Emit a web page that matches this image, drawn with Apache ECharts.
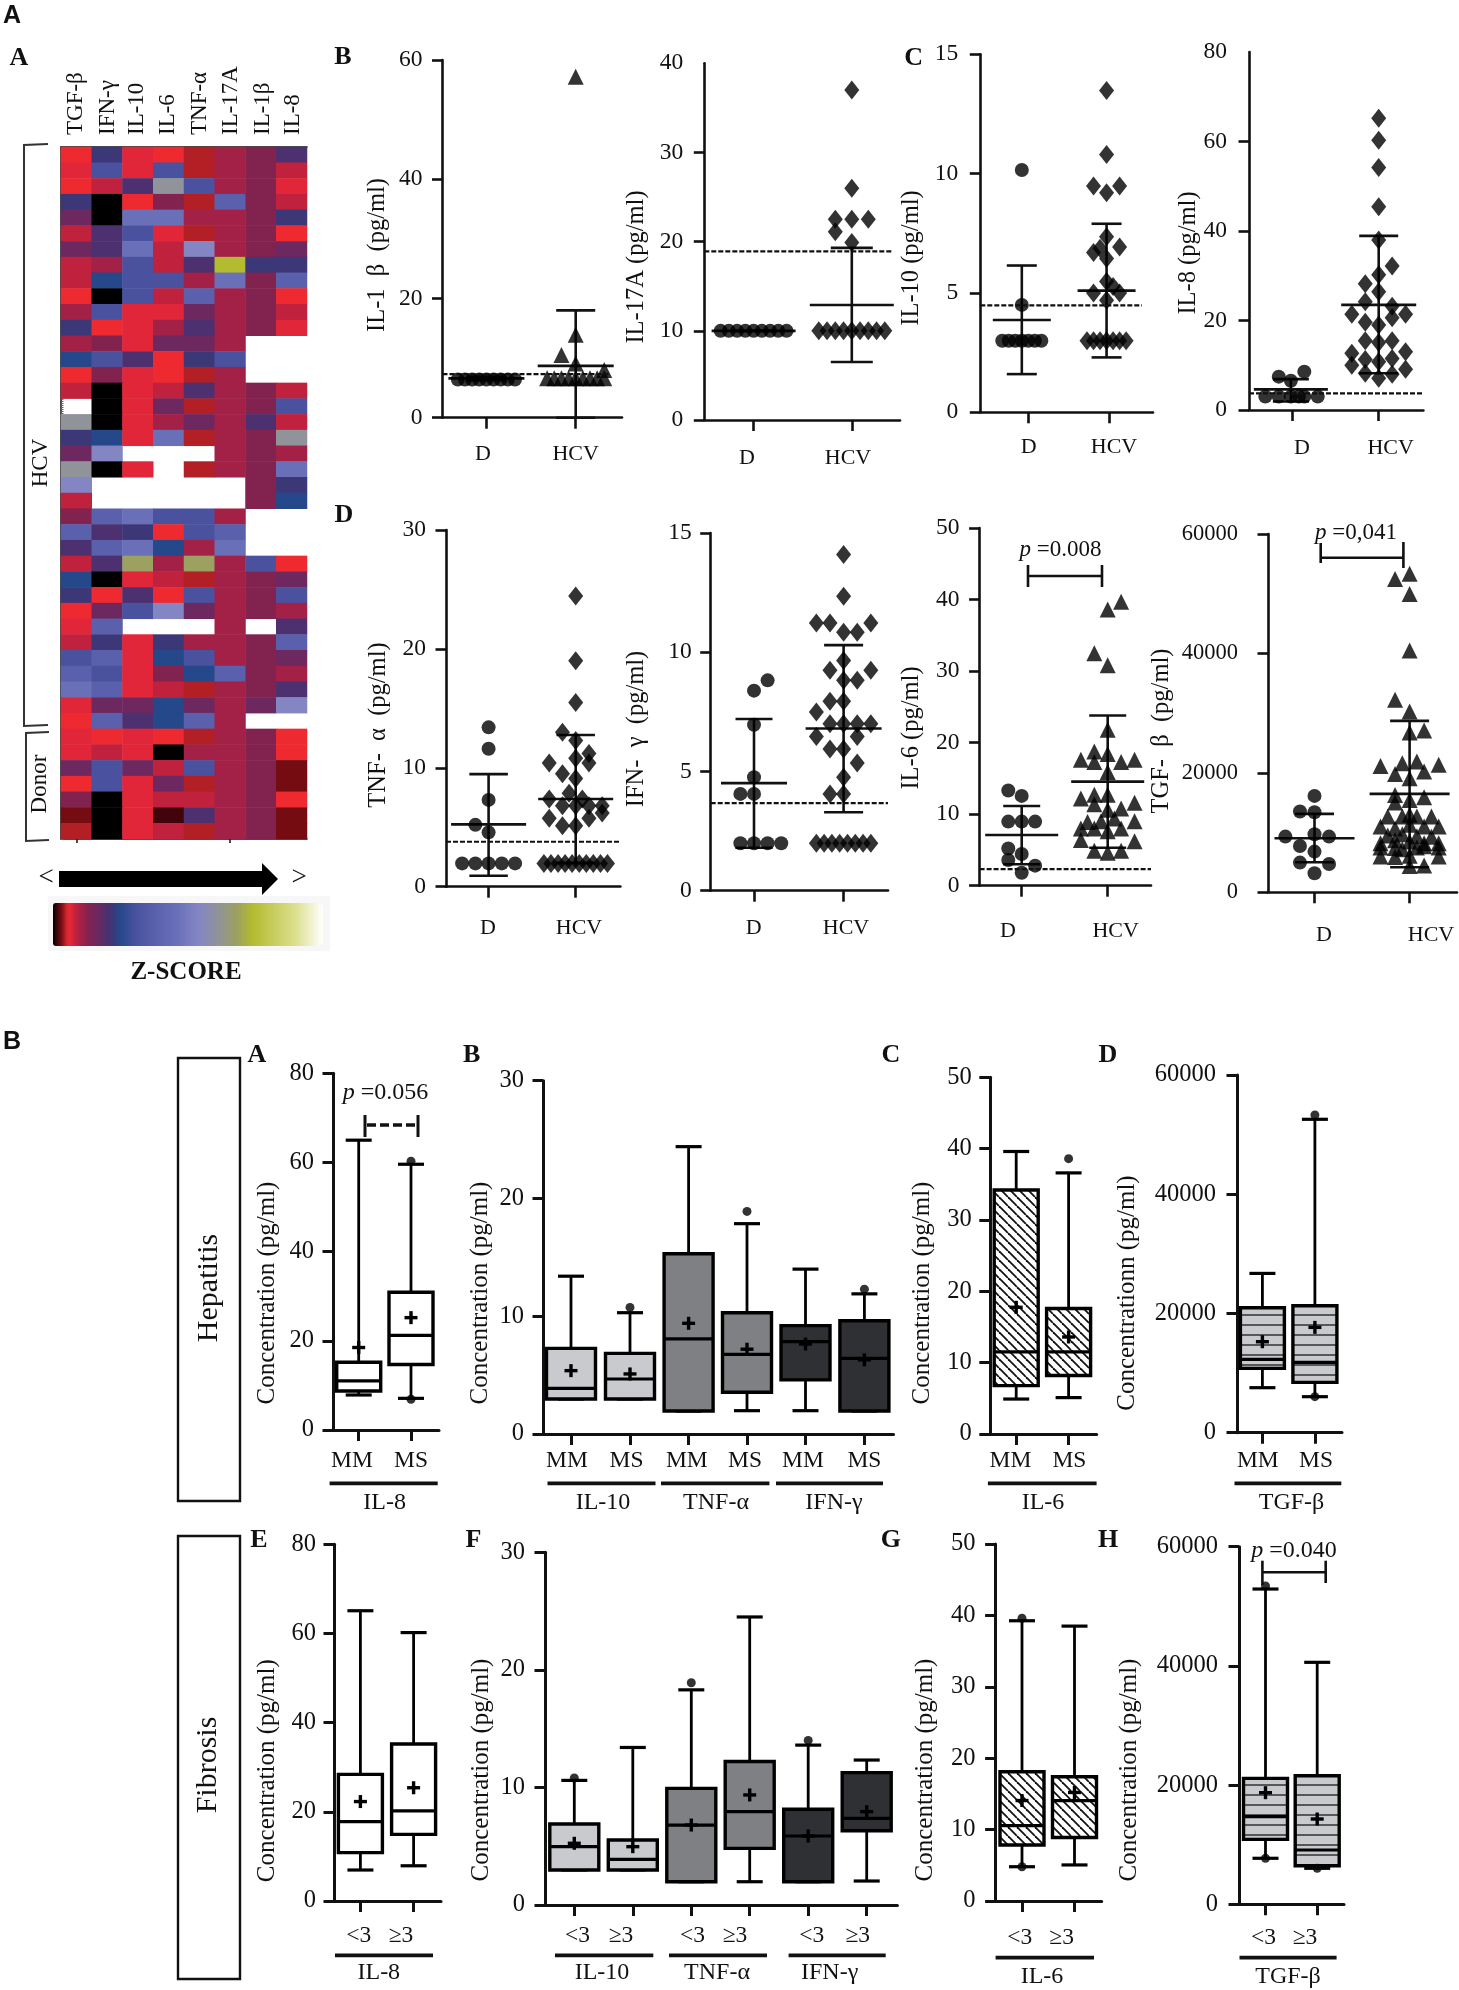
<!DOCTYPE html>
<html>
<head>
<meta charset="utf-8">
<style>
  html, body { margin: 0; padding: 0; background: #fff; }
  #chart { width: 1459px; height: 1990px; }
</style>
<script src="https://cdn.jsdelivr.net/npm/echarts@6/dist/echarts.min.js"></script>
</head>
<body>
<div id="chart"></div>
<script>
// heatmap: z levels
const K = 0, X = 0.015, M = 0.03, D = 0.045, R = 0.055, E = 0.065, C = 0.085, B = 0.105, P = 0.13,
  V = 0.165, U = 0.2, I = 0.22, N = 0.245, A = 0.31, L = 0.38, O = 0.46, W = 0.54, G = 0.61, H = 0.68, Y = 0.74, _ = null;
const zStops = [[0,'#000000'],[0.015,'#40040a'],[0.03,'#740c12'],[0.045,'#b21f25'],[0.055,'#ee2a30'],[0.065,'#e2263a'],
  [0.085,'#c0213c'],[0.105,'#a32047'],[0.13,'#82224f'],[0.165,'#6d2860'],[0.2,'#4d3070'],[0.22,'#3c3878'],
  [0.245,'#24488a'],[0.31,'#4a52a0'],[0.38,'#5a60ac'],[0.46,'#6a70b8'],[0.54,'#8486c4'],[0.61,'#90939a'],
  [0.68,'#9ca060'],[0.74,'#b3bb30'],[0.9,'#dde08f'],[1,'#ffffff']];

const heatColumns = ['TGF-β', 'IFN-γ', 'IL-10', 'IL-6', 'TNF-α', 'IL-17A', 'IL-1β', 'IL-8'];
const heatRows = [
  [R,I,E,R,D,B,P,U],[E,A,E,A,D,B,P,C],[R,C,U,G,A,B,P,E],[I,K,R,P,D,L,P,C],
  [V,K,O,O,B,B,P,I],[C,U,A,E,D,B,P,R],[V,U,O,C,W,B,P,V],[C,B,A,C,U,Y,I,I],
  [C,N,A,A,B,O,P,L],[R,K,A,C,L,B,P,R],[B,A,E,E,V,B,P,C],[I,R,E,B,U,B,P,E],
  [B,P,E,V,V,B,_,_],[N,A,U,R,I,A,_,_],[R,P,E,R,D,B,_,_],[C,K,E,C,U,B,P,C],
  [_,K,E,V,D,B,P,A],[G,K,E,B,V,B,U,C],[I,N,E,O,D,B,P,G],[V,W,_,_,_,B,P,B],
  [G,K,E,_,D,B,P,O],[W,_,_,_,_,_,P,I],[C,_,_,_,_,_,P,N],[P,L,O,A,A,B,_,_],
  [L,U,I,R,A,L,_,_],[U,L,O,N,B,O,_,_],[C,U,H,B,H,B,A,R],[N,K,E,C,D,B,P,V],
  [I,R,U,R,A,B,P,A],[R,V,A,W,V,B,P,B],[E,L,_,_,_,B,_,U],[C,I,E,I,B,B,P,L],
  [A,L,E,N,A,B,P,V],[L,A,E,P,N,L,P,B],[O,L,E,C,D,B,P,U],[E,V,V,N,V,B,V,W],
  [R,L,U,N,L,B,_,_],[E,R,E,R,D,B,P,R],[E,C,E,K,B,B,P,R],[V,A,V,C,A,B,P,M],
  [R,A,E,V,D,B,P,M],[P,K,E,C,C,B,P,R],[M,K,E,X,U,B,P,M],[D,K,E,C,D,B,P,M]
];

// scatter panels: points are [swarm slot, value], stats are [mean, low, high]
const il1bDonor = [[-4,6.4],[-3,6.4],[-2,6.4],[-1,6.4],[0,6.4],[1,6.4],[2,6.4],[3,6.4],[4,6.4]];
const il1bHcv = [[-4,6.6],[-3,6.6],[-2,6.6],[-1,6.6],[0,6.6],[1,6.6],[2,6.6],[3,6.6],[4,6.6],[4,8],[-2,10.5],[0,9.1],[0,13.9],[0,57.2]];
const il1bDonorStats = [6.6, 6.3, 6.9], il1bHcvStats = [8.7, 0, 18], il1bRef = 7.3;

const il17Donor = [[-4,10],[-3,10],[-2,10],[-1,10],[0,10],[1,10],[2,10],[3,10],[4,10]];
const il17Hcv = [[-4,10],[-3,10],[-2,10],[-1,10],[0,10],[1,10],[2,10],[3,10],[4,10],[0,19.9],[-2,21.1],[-2,22.5],[0,22.5],[2,22.5],[0,26],[0,37]];
const il17DonorStats = [10, 10, 10], il17HcvStats = [12.9, 6.5, 19.3], il17Ref = 18.9;

const il10Donor = [[-3,3],[-2,3],[-1,3],[0,3],[1,3],[2,3],[3,3],[0,4.5],[0,10.15]];
const il10Hcv = [[-3,3],[-2,3],[-1,3],[0,3],[1,3],[2,3],[3,3],[0,4.7],[-2,5],[2,5],[1,5.27],[0,5.48],[0,6.44],[-2,6.7],[-1,6.87],[2,6.93],[0,7.36],[0,9.2],[-2,9.48],[2,9.48],[0,10.8],[0,13.48]];
const il10DonorStats = [3.87, 1.6, 6.15], il10HcvStats = [5.1, 2.3, 7.9], il10Ref = 4.48;

const il8Donor = [[-1.9,3],[-0.9,3],[0,3],[0.6,3],[1,3],[2,3],[0,6.55],[-0.9,7.45],[1,8.57]];
const il8Hcv = [[0,7.1],[-1,8.2],[1,8],[2,9.1],[-2,10],[0,10.8],[-1,11.3],[1,11.5],[-2,12.7],[2,13],[-1,15.5],[0,15.1],[1,15.5],[0,19],[-1,19.6],[1,20.6],[-2,21.4],[2,21.4],[1,23.2],[-1,24.2],[0,26.4],[-1,28.2],[0,30.2],[1,32.2],[0,38],[0,45.4],[0,54.2],[0,60.3],[0,65.2]];
const il8DonorStats = [4.6, 1.9, 6.9], il8HcvStats = [23.5, 8.2, 38.9], il8Ref = 3.72;

const tnfDonor = [[-2,1.96],[-1,1.96],[0,1.96],[1,1.96],[2,1.96],[0,4.57],[-1,5.2],[0,7.3],[0,11.6],[0,13.4]];
const tnfHcv = [[-2.4,1.96],[-1.87,1.96],[-1.33,1.96],[-0.8,1.96],[-0.27,1.96],[0.27,1.96],[0.8,1.96],[1.33,1.96],[1.87,1.96],[2.4,1.96],[-1,5.13],[0,5.13],[-2,5.75],[1,5.75],[2,6.2],[-1,6.8],[0,6.8],[1,6.8],[2,6.8],[-2,7.37],[0.5,7.37],[-0.5,7.85],[0,9.1],[-1,9.5],[-2,10.4],[1,10.4],[0,10.8],[1,11.2],[0,12.3],[-1,13],[0,15.5],[0,19],[0,24.45]];
const tnfDonorStats = [5.24, 0.92, 9.47], tnfHcvStats = [7.37, 2, 12.76], tnfRef = 3.78;

const ifnDonor = [[-1,1.99],[0,1.99],[1,1.99],[2,1.99],[-1,4.06],[0,4.06],[0,4.76],[0,6.96],[0,8.39],[1,8.82]];
const ifnHcv = [[-2,1.99],[-1.43,1.99],[-0.86,1.99],[-0.29,1.99],[0.29,1.99],[0.86,1.99],[1.43,1.99],[2,1.99],[-1,4.06],[0,4.06],[0,4.76],[1,5.35],[-1,5.94],[0,5.94],[-2,6.47],[1,6.47],[-1,7],[0,7],[1,7],[2,7],[-2,7.49],[-1,7.94],[0,7.94],[0,8.82],[1,8.82],[-1,9.24],[2,9.24],[0,9.65],[0,10.84],[1,10.84],[-2,11.23],[-1,11.23],[2,11.23],[0,12.35],[0,14.1]];
const ifnDonorStats = [4.51, 1.8, 7.2], ifnHcvStats = [6.8, 3.29, 10.3], ifnRef = 3.67;

const il6Donor = [[0,1.8],[1,2.8],[-1,3.6],[0,4.43],[-1,5.2],[-1,8.96],[0,8.96],[1,8.96],[0,12.55],[-1,13.3]];
const il6Hcv = [[0,4.6],[-1,4.9],[1,4.9],[2,6.2],[-2,6.4],[0,7.6],[-2,8],[-1,8],[1,8],[-1.5,8.9],[-0.5,9],[2,9],[0.5,9.4],[0,10.6],[1,10.8],[-1,11.4],[2,11.6],[-2,12.2],[-1,12.7],[0,12.7],[0,15.9],[-1,17.3],[1,17.3],[-2,17.6],[2,17.6],[0,18.4],[-1,18.75],[0,21.8],[0,30.8],[-1,32.5],[0,38.6],[1,39.7]];
const il6DonorStats = [7.09, 3, 11.15], il6HcvStats = [14.55, 5.3, 23.8], il6Ref = 2.33;

const tgfDonor = [[0,3185],[1,4750],[-1,4970],[0,6815],[-1,7765],[-2,9330],[1,9330],[0,9720],[0,13400],[-1,13520],[0,16145]];
const tgfHcv = [[0,4400],[1,4500],[-2,5980],[-1,5900],[0,6100],[2,5980],[-2,7500],[-1,7400],[-0.5,7200],[0.5,7500],[1,7700],[2,7500],[-2,8200],[-1,8700],[0,8500],[1,8200],[2,8200],
  [-1.5,9500],[-0.5,9700],[0.5,9400],[1.5,9300],[-2,11000],[-1,10700],[0,11300],[1,11000],[2,11000],[-1.5,12680],[-0.5,12680],[0,13000],[0.5,12680],[1.5,12680],
  [-1,15030],[0,15470],[1,15920],[-1,16310],[0,19100],[-1,19830],[1,20220],[-2,21170],[2,21340],[-0.5,21620],[0.5,21900],[0,26760],[1,27090],[0,30280],[-1,32230],[0,40500],[0,49940],[-1,52450],[0,53350]];
const tgfDonorStats = [9050, 5030, 13130], tgfHcvStats = [16480, 4190, 28700];

// box panels: each box is [low, q1, median, q3, high, mean]
const hepIl8Boxes = [[7.85,8.75,11,15.2,65,18.5],[7.1,14.7,21.2,30.9,59.6,25.2]];
const hepIl8Dots = [[2,60.3],[2,6.9]];
const hepCytBoxes = [[2.97,2.97,3.88,7.27,13.4,5.38],[2.97,2.97,4.67,6.85,10.3,5.1],[1.95,1.95,8.07,15.3,24.4,9.4],[1.98,3.54,6.76,10.3,17.86,7.2],[1.98,4.6,7.84,9.2,14,7.64],[1.95,1.95,6.42,9.62,11.9,6.3]];
const hepCytDots = [[2,10.75],[4,18.9],[6,12.3]];
const hepIl6Boxes = [[4.9,6.78,11.5,34.2,39.6,17.76],[5.1,8.2,11.5,17.6,36.6,13.6]];
const hepIl6Dots = [[2,38.6]];
const hepTgfBoxes = [[7550,10790,12300,20970,26720,15260],[6040,8440,11800,21300,52570,17670]];
const hepTgfDots = [[2,53300],[2,6040]];
const fibIl8Boxes = [[6.95,10.84,17.8,28.4,65.1,22.3],[7.9,14.95,20.2,35.2,60.2,25.4]];
const fibCytBoxes = [[2.98,2.98,4.96,6.89,10.6,5.25],[2.98,2.98,3.88,5.53,13.4,4.96],[1.98,1.98,6.8,9.92,18.3,6.8],[1.98,4.82,7.94,12.2,24.5,9.36],[1.98,1.98,5.87,8.14,13.6,5.87],[2.04,6.32,7.37,11.26,12.33,7.94]];
const fibCytDots = [[1,10.8],[3,18.9],[5,14]];
const fibIl6Boxes = [[4.8,7.85,10.56,18.1,39.25,14.07],[5.05,8.9,14.07,17.4,38.5,15.2]];
const fibIl6Dots = [[1,39.6],[1,4.8]];
const fibTgfBoxes = [[7720,10900,14700,21130,52900,18730],[6040,6480,9110,21580,40600,14310]];
const fibTgfDots = [[1,53400],[1,7720],[2,6040]];
const severityLabels = ['MM', 'MS'];
const fibrosisLabels = ['<3', '≥3'];

const SERIF = '"Liberation Serif", serif';
const INK = '#111111';
const grids = [], xAxes = [], yAxes = [], series = [], marks = [];

function text(x, y, str, size, opt) {
  opt = opt || {};
  const align = opt.align || 'center';
  marks.push({
    type: 'text', silent: true, x: x, y: y, rotation: opt.vertical ? Math.PI / 2 : 0, z: 20,
    style: {
      text: str, fill: opt.color || INK, align: align, verticalAlign: 'middle',
      textAlign: align, textVerticalAlign: 'middle',
      font: (opt.bold ? 'bold ' : '') + size + 'px ' + (opt.family || SERIF),
      rich: opt.rich
    }
  });
}
function seg(x1, y1, x2, y2, w, dash) {
  marks.push({
    type: 'line', silent: true, z: 20, shape: { x1: x1, y1: y1, x2: x2, y2: y2 },
    style: { stroke: INK, lineWidth: w || 2.5, lineDash: dash }
  });
}
function pValue(x, y, value, size) {
  text(x, y, '{i|p} =' + value, size, { rich: { i: { fontStyle: 'italic', fontFamily: SERIF, fontSize: size } } });
}

// one grid with a value x axis: tick 1 sits on ticks[0], tick 2 on ticks[1] and so on
function addAxes(p) {
  const unit = p.ticks[1] - p.ticks[0];
  const toX = (px) => 1 + (px - p.ticks[0]) / unit;
  const labelVals = p.labelPx.map(toX);
  const names = new Map(labelVals.map((v, i) => [v, p.labels[i]]));
  const lw = p.lw || 2.6;
  const fs = p.fs || 22;
  const g = grids.length;
  grids.push({ left: p.left, top: p.top, width: p.right - p.left, height: p.bottom - p.top });
  const xi = xAxes.length, yi = yAxes.length;
  xAxes.push({
    type: 'value', gridIndex: g, min: toX(p.left), max: toX(p.right), splitLine: { show: false },
    axisLine: { onZero: false, lineStyle: { color: INK, width: lw } },
    axisTick: { customValues: p.ticks.map(toX), length: 11, lineStyle: { color: INK, width: lw } },
    axisLabel: {
      customValues: labelVals, formatter: (v) => names.get(v), hideOverlap: false,
      margin: p.labelY - p.bottom - fs / 2, color: INK, fontFamily: SERIF, fontSize: fs
    }
  });
  yAxes.push({
    type: 'value', gridIndex: g, min: 0, max: p.max, interval: p.interval, splitLine: { show: false },
    axisLine: { onZero: false, lineStyle: { color: INK, width: lw } },
    axisTick: { length: 10.5, customValues: p.yTicks, lineStyle: { color: INK, width: lw } },
    axisLabel: {
      margin: p.margin || 20, color: INK, fontFamily: SERIF, fontSize: p.tickFs || 23.5, padding: [9, 0, 0, 0],
      formatter: (v) => String(v)
    }
  });
  text(p.nameX, p.nameY, p.name, p.nameSize || 24.5, { vertical: true });
  return { xi: xi, yi: yi, toX: toX };
}

function statSeries(ax, center, stats, meanW, capW) {
  series.push({
    type: 'custom', xAxisIndex: ax.xi, yAxisIndex: ax.yi, silent: true, clip: false,
    data: [[center, stats[0], stats[1], stats[2]]],
    renderItem: (params, api) => {
      const m = api.coord([api.value(0), api.value(1)]);
      const lo = api.coord([api.value(0), api.value(2)]);
      const hi = api.coord([api.value(0), api.value(3)]);
      const st = { stroke: INK, lineWidth: 2.6 };
      const ln = (x1, y1, x2, y2) => ({ type: 'line', shape: { x1: x1, y1: y1, x2: x2, y2: y2 }, style: st });
      return { type: 'group', children: [
        ln(m[0], hi[1], m[0], lo[1]),
        ln(m[0] - meanW / 2, m[1], m[0] + meanW / 2, m[1]),
        ln(m[0] - capW / 2, hi[1], m[0] + capW / 2, hi[1]),
        ln(m[0] - capW / 2, lo[1], m[0] + capW / 2, lo[1])
      ] };
    }
  });
}

function scatterPanel(p) {
  const ax = addAxes(p);
  const groups = [[p.centers[0], p.donor, 'circle', [14, 14]], [p.centers[1], p.hcv, p.symbol, p.symbolSize]];
  groups.forEach((g) => {
    series.push({
      type: 'scatter', xAxisIndex: ax.xi, yAxisIndex: ax.yi, silent: true, symbol: g[2], symbolSize: g[3],
      itemStyle: { color: '#000' }, data: g[1].map((d) => [g[0] + d[0] * p.step, d[1]])
    });
  });
  statSeries(ax, p.centers[0], p.donorStats, p.meanW, p.capW);
  statSeries(ax, p.centers[1], p.hcvStats, p.meanW2 || p.meanW, p.capW2 || p.capW);
  if (p.ref != null) {
    series.push({
      type: 'line', xAxisIndex: ax.xi, yAxisIndex: ax.yi, silent: true, symbol: 'none',
      lineStyle: { color: INK, width: 2.2, type: [5, 2] },
      data: [[ax.toX(p.left), p.ref], [ax.toX(p.refEnd || p.right), p.ref]]
    });
  }
}

function makeTile(bg, stroke, w, draw) {
  const c = document.createElement('canvas');
  c.width = c.height = w;
  const ctx = c.getContext('2d');
  ctx.fillStyle = bg;
  ctx.fillRect(0, 0, w, w);
  ctx.strokeStyle = stroke;
  draw(ctx, w);
  return { image: c, repeat: 'repeat' };
}
const hatchFill = makeTile('#ffffff', '#111111', 9, (ctx, w) => {
  ctx.lineWidth = 1.8;
  [[-w, 0], [0, 0], [w, 0]].forEach((o) => {
    ctx.beginPath(); ctx.moveTo(o[0], 0); ctx.lineTo(o[0] + w, w); ctx.stroke();
  });
});
const stripeFill = makeTile('#c9cacd', '#3a3a3c', 10, (ctx, w) => {
  ctx.lineWidth = 1.6;
  ctx.beginPath(); ctx.moveTo(0, 5); ctx.lineTo(w, 5); ctx.stroke();
});

function boxPanel(p) {
  const ax = addAxes(Object.assign({ fs: 23.5, tickFs: 24.5, nameSize: 25, lw: 3 }, p));
  const boxW = p.boxW || 44;
  series.push({
    type: 'custom', xAxisIndex: ax.xi, yAxisIndex: ax.yi, silent: true, clip: false,
    data: p.boxes.map((b, i) => [ax.toX(p.ticks[i])].concat(b)),
    renderItem: (params, api) => {
      const x = api.value(0);
      const y = (i) => api.coord([x, api.value(i)])[1];
      const cx = api.coord([x, 0])[0];
      const ln = (x1, y1, x2, y2, w) => ({ type: 'line', shape: { x1: x1, y1: y1, x2: x2, y2: y2 }, style: { stroke: '#000', lineWidth: w || 2.8 } });
      const mean = y(6);
      return { type: 'group', children: [
        ln(cx, y(5), cx, y(4)),
        ln(cx, y(1), cx, y(2)),
        ln(cx - 13, y(5), cx + 13, y(5), 3.2),
        ln(cx - 13, y(1), cx + 13, y(1), 3.2),
        { type: 'rect', shape: { x: cx - boxW / 2, y: y(4), width: boxW, height: y(2) - y(4) },
          style: { stroke: '#000', lineWidth: 3.4, fill: p.fills[params.dataIndex] } },
        ln(cx - boxW / 2, y(3), cx + boxW / 2, y(3), 3.2),
        ln(cx - 6.5, mean, cx + 6.5, mean, 3.4),
        ln(cx, mean - 6.5, cx, mean + 6.5, 3.4)
      ] };
    }
  });
  if (p.dots) {
    series.push({
      type: 'scatter', xAxisIndex: ax.xi, yAxisIndex: ax.yi, silent: true, symbol: 'circle', symbolSize: 9, z: 5,
      itemStyle: { color: '#000' }, data: p.dots.map((d) => [ax.toX(p.ticks[d[0] - 1]), d[1]])
    });
  }
  // bars under the x labels, with the cytokine name below
  p.groups.forEach((g) => {
    seg(g.from, p.barY, g.to, p.barY, 3.8);
    text(g.at, p.groupY, g.name, 24);
  });
}

// ---- heatmap
const hg = grids.length;
grids.push({ left: 61, top: 147, width: 246, height: 692 });
xAxes.push({
  type: 'category', gridIndex: hg, position: 'top', data: heatColumns,
  axisLine: { onZero: false, lineStyle: { color: INK, width: 1.5 } }, axisTick: { show: false },
  axisLabel: { show: false }
});
xAxes.push({
  type: 'value', gridIndex: hg, position: 'bottom', min: 0, max: 8, splitLine: { show: false },
  axisLine: { onZero: false, lineStyle: { color: INK, width: 1.5 } },
  axisTick: { customValues: [0.5, 5.5], length: 4, lineStyle: { color: INK, width: 1.5 } },
  axisLabel: { show: false }
});
yAxes.push({
  type: 'category', gridIndex: hg, inverse: true, data: heatRows.map((r, i) => String(i + 1)),
  axisLine: { onZero: false, lineStyle: { color: INK, width: 1.5 } },
  axisTick: { alignWithLabel: true, interval: 4, length: 3, lineStyle: { color: INK, width: 1.5 } },
  axisLabel: { show: false }
});
yAxes.push({
  type: 'value', gridIndex: hg, position: 'right', offset: 1, min: 0, max: 346, interval: 1, splitLine: { show: false },
  axisLine: { show: false }, axisTick: { length: 2.5, lineStyle: { color: '#666', width: 1 } }, axisLabel: { show: false }
});
const heatCells = [];
heatRows.forEach((row, r) => row.forEach((z, c) => { if (z !== null) heatCells.push([c, r, z]); }));
series.push({
  type: 'heatmap', xAxisIndex: 0, yAxisIndex: 0, silent: true, data: heatCells,
  itemStyle: { borderWidth: 0 }
});
[76, 108, 137, 168, 200, 231, 263, 293].forEach((x, i) => text(x, 135, heatColumns[i], 23, { vertical: true, align: 'left' }));

// zStops mapped on an even colour list for the visual map
function stopColor(t) {
  let i = 0;
  while (i < zStops.length - 2 && t > zStops[i + 1][0]) i++;
  const a = zStops[i], b = zStops[i + 1];
  const f = (t - a[0]) / (b[0] - a[0]);
  const ch = (s, k) => parseInt(s.substr(1 + k * 2, 2), 16);
  return 'rgb(' + [0, 1, 2].map((k) => Math.round(ch(a[1], k) + (ch(b[1], k) - ch(a[1], k)) * f)).join(',') + ')';
}
const zColors = [];
for (let i = 0; i <= 200; i++) zColors.push(stopColor(i / 200));

// ---- section A scatter panels
const DIAMOND = [15, 19], TRIANGLE = [16, 16];
scatterPanel({ left: 442.5, right: 622, top: 60, bottom: 417.7, max: 60, interval: 20, ticks: [486.4, 575.7],
  labels: ['D', 'HCV'], labelPx: [483, 575.7], labelY: 454, name: 'IL-1  β  (pg/ml)', nameX: 377.5, nameY: 255,
  centers: [1, 2], step: 0.08, donor: il1bDonor, hcv: il1bHcv, symbol: 'triangle', symbolSize: TRIANGLE,
  donorStats: il1bDonorStats, hcvStats: il1bHcvStats, meanW: 76, capW: 39, ref: il1bRef, refEnd: 610 });
scatterPanel({ left: 704.3, right: 900, top: 63.3, bottom: 420, max: 40, interval: 10, yTicks: [0, 10, 20, 30], ticks: [753.6, 851.8],
  labels: ['D', 'HCV'], labelPx: [747, 848], labelY: 458, name: 'IL-17A (pg/ml)', nameX: 636.4, nameY: 267, margin: 21,
  centers: [1, 2], step: 0.084, donor: il17Donor, hcv: il17Hcv, symbol: 'diamond', symbolSize: DIAMOND,
  donorStats: il17DonorStats, hcvStats: il17HcvStats, meanW: 84, capW: 42, ref: il17Ref, refEnd: 893 });
scatterPanel({ left: 980.3, right: 1153, top: 54.3, bottom: 412.3, max: 15, interval: 5, ticks: [1028, 1109.5],
  labels: ['D', 'HCV'], labelPx: [1028.6, 1114], labelY: 447, name: 'IL-10 (pg/ml)', nameX: 912, nameY: 258, margin: 22,
  centers: [0.924, 1.964], step: 0.08, donor: il10Donor, hcv: il10Hcv, symbol: 'diamond', symbolSize: DIAMOND,
  donorStats: il10DonorStats, hcvStats: il10HcvStats, meanW: 58, capW: 30, ref: il10Ref, refEnd: 1142 });
scatterPanel({ left: 1249, right: 1423.4, top: 52, bottom: 410, max: 80, interval: 20, yTicks: [0, 20, 40, 60], ticks: [1292, 1378.7],
  labels: ['D', 'HCV'], labelPx: [1302, 1390.7], labelY: 448, name: 'IL-8 (pg/ml)', nameX: 1189, nameY: 253, margin: 22,
  centers: [0.987, 2], step: 0.155, donor: il8Donor, hcv: il8Hcv, symbol: 'diamond', symbolSize: DIAMOND,
  donorStats: il8DonorStats, hcvStats: il8HcvStats, meanW: 74, capW: 36, meanW2: 75, capW2: 39, ref: il8Ref });
scatterPanel({ left: 446, right: 620.4, top: 530, bottom: 886.7, max: 30, interval: 10, ticks: [488.6, 575.7],
  labels: ['D', 'HCV'], labelPx: [488, 579], labelY: 928, name: 'TNF-  α  (pg/ml)', nameX: 379, nameY: 725,
  centers: [1, 2], step: 0.152, donor: tnfDonor, hcv: tnfHcv, symbol: 'diamond', symbolSize: DIAMOND,
  donorStats: tnfDonorStats, hcvStats: tnfHcvStats, meanW: 75, capW: 38.5, ref: tnfRef });
scatterPanel({ left: 710.7, right: 888, top: 533, bottom: 890.7, max: 15, interval: 5, ticks: [754, 843.6],
  labels: ['D', 'HCV'], labelPx: [753.6, 846], labelY: 928, name: 'IFN-  γ  (pg/ml)', nameX: 636.4, nameY: 729, margin: 19,
  centers: [1, 2], step: 0.152, donor: ifnDonor, hcv: ifnHcv, symbol: 'diamond', symbolSize: DIAMOND,
  donorStats: ifnDonorStats, hcvStats: ifnHcvStats, meanW: 66, capW: 37, meanW2: 76, capW2: 39, ref: ifnRef });
scatterPanel({ left: 979.6, right: 1151, top: 528, bottom: 885.7, max: 50, interval: 10, ticks: [1021.7, 1107.7],
  labels: ['D', 'HCV'], labelPx: [1008, 1115.7], labelY: 931, name: 'IL-6 (pg/ml)', nameX: 912, nameY: 728,
  centers: [1, 2], step: 0.156, donor: il6Donor, hcv: il6Hcv, symbol: 'triangle', symbolSize: TRIANGLE,
  donorStats: il6DonorStats, hcvStats: il6HcvStats, meanW: 73, capW: 37, ref: il6Ref });
scatterPanel({ left: 1268, right: 1457, top: 534, bottom: 892.3, max: 60000, interval: 20000, ticks: [1314.5, 1409.6],
  labels: ['D', 'HCV'], labelPx: [1324, 1431], labelY: 935, name: 'TGF-  β  (pg/ml)', nameX: 1162, nameY: 731, margin: 30, tickFs: 22.5,
  centers: [1, 2], step: 0.153, donor: tgfDonor, hcv: tgfHcv, symbol: 'triangle', symbolSize: TRIANGLE,
  donorStats: tgfDonorStats, hcvStats: tgfHcvStats, meanW: 80, capW: 39 });

// ---- section B box panels
const LIGHT = '#c9cacd', MID = '#7f8083', DARK = '#2f3033';
const barRow = { labelY: 1461, barY: 1483.3, groupY: 1503 };
const sixSeverity = [0, 1, 0, 1, 0, 1].map((i) => severityLabels[i]);
const sixFibrosis = [0, 1, 0, 1, 0, 1].map((i) => fibrosisLabels[i]);
boxPanel(Object.assign({ left: 333, right: 439, top: 1073.3, bottom: 1430, max: 80, interval: 20, ticks: [358.7, 411],
  labels: severityLabels, labelPx: [352, 411], name: 'Concentration (pg/ml)', nameX: 267, nameY: 1293, margin: 19,
  boxes: hepIl8Boxes, dots: hepIl8Dots, fills: ['#fff', '#fff'],
  groups: [{ from: 329.6, to: 437.7, at: 384.6, name: 'IL-8' }] }, barRow));
boxPanel(Object.assign({ left: 543, right: 893.5, top: 1080.7, bottom: 1434, max: 30, interval: 10, ticks: [571, 630, 688.6, 747, 805.5, 864.4],
  labels: sixSeverity,
  labelPx: [567, 626.5, 686.8, 745, 803, 864.4], name: 'Concentration (pg/ml)', nameX: 480.5, nameY: 1293, margin: 19, boxW: 49,
  boxes: hepCytBoxes, dots: hepCytDots, fills: [LIGHT, LIGHT, MID, MID, DARK, DARK],
  groups: [{ from: 547.5, to: 655.5, at: 603, name: 'IL-10' }, { from: 661, to: 769.4, at: 716, name: 'TNF-α' }, { from: 776, to: 883, at: 834, name: 'IFN-γ' }] }, barRow));
boxPanel(Object.assign({ left: 989.8, right: 1096.6, top: 1077.3, bottom: 1434, max: 50, interval: 10, ticks: [1016.2, 1068.6],
  labels: severityLabels, labelPx: [1010.4, 1069.4], name: 'Concentration (pg/ml)', nameX: 922.6, nameY: 1293, margin: 18,
  boxes: hepIl6Boxes, dots: hepIl6Dots, fills: [hatchFill, hatchFill],
  groups: [{ from: 987.9, to: 1096.6, at: 1043, name: 'IL-6' }] }, barRow));
boxPanel(Object.assign({ left: 1237, right: 1342, top: 1075, bottom: 1432.7, max: 60000, interval: 20000, ticks: [1262.4, 1314.9],
  labels: severityLabels, labelPx: [1257.8, 1316], name: 'Concentrationn (pg/ml)', nameX: 1127, nameY: 1293, margin: 21,
  boxes: hepTgfBoxes, dots: hepTgfDots, fills: [stripeFill, stripeFill],
  groups: [{ from: 1234.5, to: 1341.3, at: 1291.5, name: 'TGF-β' }] }, barRow));

const fibRow = { labelY: 1936, barY: 1955.3, groupY: 1973 };
const fibRow2 = { labelY: 1938, barY: 1957.7, groupY: 1977 };
boxPanel(Object.assign({ left: 334, right: 441, top: 1544.3, bottom: 1901, max: 80, interval: 20, ticks: [360.4, 413.6],
  labels: fibrosisLabels, labelPx: [358.7, 401], name: 'Concentration (pg/ml)', nameX: 267, nameY: 1770.7, margin: 18,
  boxes: fibIl8Boxes, fills: ['#fff', '#fff'],
  groups: [{ from: 335, to: 433, at: 378.8, name: 'IL-8' }] }, fibRow));
boxPanel(Object.assign({ left: 545, right: 897.4, top: 1552.3, bottom: 1905, max: 30, interval: 10, ticks: [574.3, 632.8, 691.3, 749.7, 808.2, 866.7],
  labels: sixFibrosis,
  labelPx: [577.4, 621, 692.6, 735, 811.8, 857.8], name: 'Concentration (pg/ml)', nameX: 481.4, nameY: 1770, boxW: 49,
  boxes: fibCytBoxes, dots: fibCytDots, fills: [LIGHT, LIGHT, MID, MID, DARK, DARK],
  groups: [{ from: 555, to: 653.3, at: 602, name: 'IL-10' }, { from: 669, to: 767, at: 717, name: 'TNF-α' }, { from: 788.6, to: 885.7, at: 829.6, name: 'IFN-γ' }] }, fibRow));
boxPanel(Object.assign({ left: 995.6, right: 1101.7, top: 1544, bottom: 1901, max: 50, interval: 10, ticks: [1022, 1074.5],
  labels: fibrosisLabels, labelPx: [1019.7, 1061.6], name: 'Concentration (pg/ml)', nameX: 925.7, nameY: 1770,
  boxes: fibIl6Boxes, dots: fibIl6Dots, fills: [hatchFill, hatchFill],
  groups: [{ from: 995.6, to: 1094, at: 1042, name: 'IL-6' }] }, fibRow2));
boxPanel(Object.assign({ left: 1239, right: 1344, top: 1546.7, bottom: 1904.3, max: 60000, interval: 20000, ticks: [1265.5, 1317.2],
  labels: fibrosisLabels, labelPx: [1263.6, 1305], name: 'Concentration (pg/ml)', nameX: 1129.6, nameY: 1770, margin: 21,
  boxes: fibTgfBoxes, dots: fibTgfDots, fills: [stripeFill, stripeFill],
  groups: [{ from: 1239.5, to: 1336.6, at: 1288, name: 'TGF-β' }] }, fibRow2));

// ---- letters, brackets, annotations
const SANS = '"Liberation Sans", sans-serif';
text(12, 16, 'A', 25, { bold: true, family: SANS });
text(12, 1042, 'B', 25, { bold: true, family: SANS });
[['A', 19, 58], ['B', 343, 57], ['C', 913.6, 58], ['D', 344, 515]].forEach((l) => text(l[1], l[2], l[0], 26, { bold: true }));
[['A', 257, 1055], ['B', 471.6, 1055], ['C', 890.8, 1055], ['D', 1108, 1055],
 ['E', 259, 1540], ['F', 473.4, 1540], ['G', 890.8, 1540], ['H', 1108, 1540]].forEach((l) => text(l[1], l[2], l[0], 26, { bold: true }));

marks.push({ type: 'polyline', silent: true, shape: { points: [[48, 144], [24, 145], [24, 726], [48, 725]] }, style: { stroke: '#333', lineWidth: 2, fill: 'none' } });
marks.push({ type: 'polyline', silent: true, shape: { points: [[49, 732], [26, 733], [26, 841], [49, 840]] }, style: { stroke: '#333', lineWidth: 2, fill: 'none' } });
text(41, 463, 'HCV', 23, { vertical: true });
text(40, 784, 'Donor', 23, { vertical: true });

marks.push({ type: 'polygon', silent: true, shape: { points: [[59, 871], [262, 871], [262, 863], [278, 879], [262, 895], [262, 887], [59, 887]] }, style: { fill: '#000' } });
text(46, 878, '<', 27);
text(299, 878, '>', 27);
text(186, 973, 'Z-SCORE', 25, { bold: true });

seg(1028, 576, 1102, 576, 2.6); seg(1028, 565, 1028, 587, 2.6); seg(1102, 565, 1102, 587, 2.6);
pValue(1060.5, 550, '0.008', 23);
seg(1320.7, 557.7, 1403.4, 557.7, 2.6); seg(1320.7, 543, 1320.7, 563, 2.6); seg(1403.4, 542, 1403.4, 568, 2.6);
pValue(1356, 533, '0,041', 23);
seg(367, 1125, 418, 1125, 3.4, [9, 4]); seg(365, 1115, 365, 1137, 3); seg(418, 1115, 418, 1137, 3);
pValue(385.4, 1093, '0.056', 24);
seg(1262.4, 1572.3, 1325.7, 1572.3, 2.6); seg(1262.4, 1560.7, 1262.4, 1585, 2.6); seg(1325.7, 1560.7, 1325.7, 1583, 2.6);
pValue(1294, 1551, '0.040', 24);

marks.push({ type: 'rect', silent: true, shape: { x: 178, y: 1058, width: 62, height: 443 }, style: { stroke: INK, lineWidth: 2.4, fill: 'none' } });
marks.push({ type: 'rect', silent: true, shape: { x: 178, y: 1536, width: 62, height: 443 }, style: { stroke: INK, lineWidth: 2.4, fill: 'none' } });
text(209, 1288, 'Hepatitis', 30, { vertical: true });
text(208, 1765, 'Fibrosis', 30, { vertical: true });

const chart = echarts.init(document.getElementById('chart'), null, { renderer: 'canvas' });
chart.setOption({
  animation: false,
  backgroundColor: '#ffffff',
  grid: grids,
  xAxis: xAxes,
  yAxis: yAxes,
  series: series,
  visualMap: {
    type: 'continuous', seriesIndex: 0, dimension: 2, min: 0, max: 1, orient: 'horizontal', calculable: false,
    left: 48, top: 896, itemWidth: 43, itemHeight: 270, text: ['', ''], padding: [7, 7, 5, 5],
    backgroundColor: '#f7f7f7', inRange: { color: zColors }, hoverLink: false
  },
  graphic: { elements: marks }
});
</script>
</body>
</html>
